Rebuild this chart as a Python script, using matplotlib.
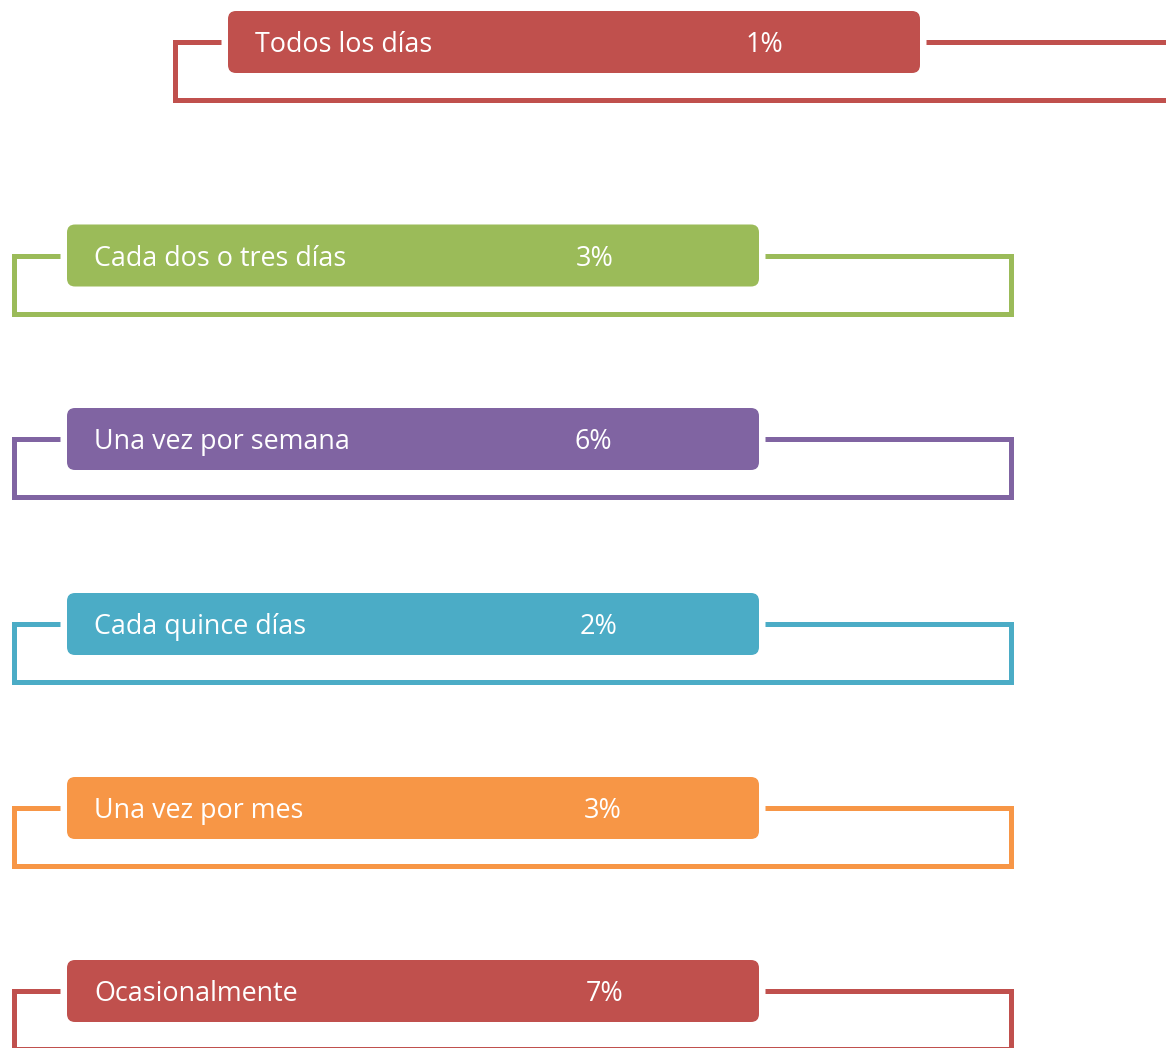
import matplotlib.pyplot as plt
from matplotlib.patches import FancyBboxPatch

labels = ["Todos los días", "Cada dos o tres días", "Una vez por semana",
          "Cada quince días", "Una vez por mes", "Ocasionalmente"]
percents = ["1%", "3%", "6%", "2%", "3%", "7%"]
colors = ["#C0504D", "#9BBB59", "#8064A2", "#4BACC6", "#F79646", "#C0504D"]

# layout (pixel units)
W, H = 1166, 1048
row_y = [42, 255.5, 439, 624, 808, 991]
x_shift = [161, 0, 0, 0, 0, 0]
pct_x = [764, 595, 593, 599, 603, 605]
box_l, box_r, box_h = 67, 759, 62
brk_l, brk_r, brk_drop = 14, 1011, 58

fig = plt.figure(figsize=(W / 100, H / 100), dpi=100)
ax = fig.add_axes([0, 0, 1, 1])
ax.set_xlim(0, W)
ax.set_ylim(H, 0)
ax.axis("off")

for lab, pct, c, y, dx, px in zip(labels, percents, colors, row_y, x_shift, pct_x):
    # bracket
    xs = [box_l - 7 + dx, brk_l + dx, brk_l + dx, brk_r + dx, brk_r + dx, box_r + 6 + dx]
    ys = [y, y, y + brk_drop, y + brk_drop, y, y]
    ax.plot(xs, ys, color=c, lw=3.6, solid_joinstyle="miter", solid_capstyle="butt")
    # box
    ax.add_patch(FancyBboxPatch((box_l + dx, y - box_h / 2), box_r - box_l, box_h,
                                boxstyle="round,pad=0,rounding_size=8",
                                fc=c, ec="none"))
    ax.text(box_l + 27 + dx, y + 3, lab, color="white", fontsize=19.4,
            family="Open Sans", va="center", ha="left")
    ax.text(px, y + 3, pct, color="white", fontsize=19.4,
            family="Open Sans", va="center", ha="center")

fig.savefig("out.png", dpi=100)
